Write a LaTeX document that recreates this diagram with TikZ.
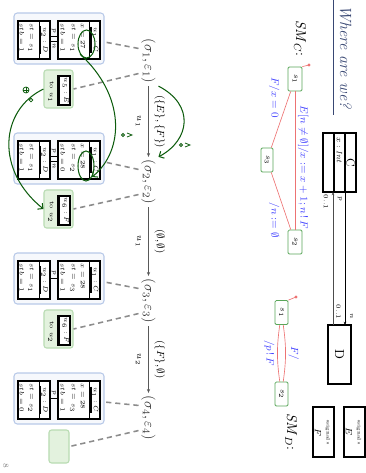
\documentclass[tikz,border=0pt]{standalone}
\usetikzlibrary{calc,arrows.meta,shapes.geometric}
\definecolor{titleblue}{rgb}{0.22,0.28,0.45}
\definecolor{stategreen}{rgb}{0.35,0.65,0.35}
\definecolor{transred}{rgb}{0.93,0.45,0.45}
\definecolor{lblblue}{rgb}{0.25,0.25,1}
\definecolor{cfgblue}{rgb}{0.72,0.79,0.91}
\definecolor{cfgfill}{rgb}{0.965,0.972,0.99}
\definecolor{evgreen}{rgb}{0.72,0.86,0.7}
\definecolor{evfill}{rgb}{0.89,0.95,0.87}
\definecolor{pengreen}{rgb}{0.05,0.36,0.05}
\newcommand\myfs[1]{\fontsize{#1}{#1}\selectfont}
\newcommand\pxu{0.7699pt}
\tikzset{
  stbox/.style={draw=stategreen,line width=0.6pt,rounded corners=1pt,fill=white,
    minimum width={24*\pxu},minimum height={14*\pxu},inner sep=0pt,font=\myfs{6}},
  trline/.style={draw=transred,line width=0.5pt},
  lbl/.style={text=lblblue,font=\myfs{8},inner sep=1pt},
  clsbox/.style={draw=black,line width=1.1pt,inner sep=0pt},
  cfg/.style={font=\myfs{11},text=black!80,inner sep=2pt},
  runarrow/.style={draw=black!65,line width=0.8pt,-{Stealth[length=3pt,width=2.5pt]}},
  cbox/.style={draw=cfgblue,fill=cfgfill,line width=0.8pt,rounded corners=2.5pt,
    minimum width={51*\pxu},minimum height={90*\pxu},inner sep=0pt},
  objbox/.style={draw=black,line width=0.8pt,fill=white,inner sep=0pt},
  attr/.style={font=\myfs{5},anchor=west,inner sep=0pt},
  oname/.style={font=\myfs{5},inner sep=0.3pt},
  ebox/.style={draw=evgreen,fill=evfill,line width=0.8pt,rounded corners=2pt,inner sep=0pt},
  dsh/.style={draw=black!45,line width=1.2pt,dash pattern=on 4pt off 3pt},
  pen/.style={draw=pengreen,line width=0.8pt},
}
% #1 shift, #2 suffix, #3 x, #4 st u1, #5 stb u1, #6 st u2, #7 stb u2, #8 links(1=p,n)
\newcommand\cfgbox[8]{%
 \begin{scope}[shift={(#1,0)}]
  \node[cbox] (b#2) at (38.5,59) {};
  \node[objbox,minimum width={38*\pxu},minimum height={42*\pxu}] (oc#2) at (40,79) {};
  \draw[line width=0.6pt] (21,89) -- (59,89);
  \node[oname] (nc#2) at (40,95) {$u_1 : C$};
  \draw[line width=1.1pt] (nc#2.south west) -- (nc#2.south east);
  \node[attr] at (23,83) {$x = #3$};
  \node[attr] at (23,73) {$st = #4$};
  \node[attr] at (23,63) {$stb = #5$};
  \node[objbox,minimum width={38*\pxu},minimum height={32*\pxu}] (od#2) at (40,34) {};
  \draw[line width=0.6pt] (21,39) -- (59,39);
  \node[oname] (nd#2) at (40,44.5) {$u_2 : D$};
  \draw[line width=1.1pt] (nd#2.south west) -- (nd#2.south east);
  \node[attr] at (23,31) {$st = #6$};
  \node[attr] at (23,22) {$stb = #7$};
  \ifnum#8=1
   \draw[line width=0.5pt] (36,50) -- (36,58);
   \draw[line width=0.5pt] (41,50) -- (41,58);
   \node[font=\myfs{4.5},inner sep=0pt] at (30.5,54) {$p$};
   \node[font=\myfs{4.5},inner sep=0pt] at (46,54) {$n$};
  \else
   \draw[line width=0.5pt] (38,50) -- (38,58);
   \node[font=\myfs{4.5},inner sep=0pt] at (32.5,54) {$p$};
  \fi
 \end{scope}}
% #1 shift, #2 suffix, #3 target, #4 event
\newcommand\evbox[4]{%
 \begin{scope}[shift={(#1,0)}]
  \node[ebox,minimum width={38*\pxu},minimum height={29*\pxu}] (g#2) at (89,58.5) {};
  \node[font=\myfs{5},inner sep=0pt] at (92,51) {to $#3$};
  \node[objbox,minimum width={29*\pxu},minimum height={12*\pxu}] (e#2) at (90.5,64) {};
  \draw[line width=1.8pt] (76,59) -- (105,59);
  \node[font=\myfs{5},inner sep=0pt] at (90.5,65.5) {$#4$};
 \end{scope}}
\begin{document}
\begin{tikzpicture}[x=0.02706cm,y=0.02706cm]
\useasboundingbox (0,0) rectangle (366,-473);
\begin{scope}[rotate=-90,transform shape]
 % title
 \node[anchor=base west,text=titleblue,font=\myfs{12.5}\itshape,inner sep=0pt] (title) at (5,340) {Where are we?};
 \coordinate (ulA) at (0,333); \coordinate (ulB) at (115,333);
 \draw[titleblue,line width=0.7pt] (ulA) -- (ulB);
 % SM_C
 \node[anchor=west,font=\myfs{11},inner sep=0pt] (smc) at (20,300) {$\mathit{SM}_C$:};
 \node[stbox] (cs1) at (79,295) {$s_1$};
 \node[stbox,minimum height={12*\pxu}] (cs3) at (160,267) {$s_3$};
 \node[stbox] (cs2) at (242,295) {$s_2$};
 \coordinate (cinit) at (65,309);
 \fill[transred] (cinit) circle (1.7);
 \draw[trline] (cinit) -- (cs1.north west);
 \draw[trline] (cs1) -- (cs2) node[lbl,pos=0.55,above=1pt] {$E[n \neq \emptyset]/x := x + 1; n\,!\,F$};
 \draw[trline] (cs1) -- (cs3) node[lbl,pos=0.5,below left=0pt] {$F/x = 0$};
 \draw[trline] (cs3) -- (cs2) node[lbl,pos=0.5,below right=0pt] {$/n := \emptyset$};
 % class diagram
 \node[clsbox,minimum width={59*\pxu},minimum height={33*\pxu}] (clC) at (162.5,339.5) {};
 \draw[line width=0.9pt] (133,334) -- (192,334);
 \draw[line width=0.9pt] (133,345) -- (192,345);
 \node[font=\myfs{9}] (clCn) at (162.5,350.5) {C};
 \node[font=\myfs{6},anchor=west,inner sep=0pt] (clCa) at (137,339.5) {$x : \mathit{Int}$};
 \node[clsbox,minimum width={59*\pxu},minimum height={23*\pxu}] (clD) at (354.5,339.5) {D};
 \coordinate (aC1) at (192,333); \coordinate (aD1) at (325,333);
 \coordinate (aC2) at (192,345); \coordinate (aD2) at (325,345);
 \draw[black!70,line width=0.5pt,{Stealth[length=2.5pt,width=2pt]}-] (aC1) -- (aD1);
 \draw[black,line width=0.5pt,-{Stealth[length=2.5pt,width=2pt]}] (aC2) -- (aD2);
 \node[font=\myfs{5},inner sep=0pt] at (202,326) {$0..1$};
 \node[font=\myfs{5},inner sep=0pt] at (199,340) {$p$};
 \node[font=\myfs{5},inner sep=0pt] at (312,338.5) {$0..1$};
 \node[font=\myfs{5},inner sep=0pt] at (316,351.5) {$n$};
 % signals
 \node[clsbox,line width=0.8pt,minimum width={50*\pxu},minimum height={21*\pxu}] (sigE) at (432,354.5) {};
 \node[font=\myfs{4},inner sep=0pt] at (432,359) {\guillemotleft signal\guillemotright};
 \node[font=\myfs{7},inner sep=0pt] at (432,349) {$E$};
 \node[clsbox,line width=0.8pt,minimum width={50*\pxu},minimum height={21*\pxu}] (sigF) at (432,323.5) {};
 \node[font=\myfs{4},inner sep=0pt] at (432,328) {\guillemotleft signal\guillemotright};
 \node[font=\myfs{7},inner sep=0pt] at (432,318) {$F$};
 % SM_D
 \node[anchor=west,font=\myfs{11},inner sep=0pt] (smd) at (413,291) {$\mathit{SM}_D$:};
 \node[stbox,minimum height={13*\pxu}] (ds1) at (312.5,281.5) {$s_1$};
 \node[stbox,minimum height={13*\pxu}] (ds2) at (394,281.5) {$s_2$};
 \coordinate (dinit) at (297,296);
 \fill[transred] (dinit) circle (1.7);
 \draw[trline] (dinit) -- (ds1.north west);
 \draw[trline] (ds1) to[bend left=8] node[lbl,above=1pt] {$F/$} (ds2);
 \draw[trline] (ds1) to[bend right=8] node[lbl,below=1pt] {$/p\,!\,F$} (ds2);
 % run
 \node[cfg] (c1) at (61,148.5) {$(\sigma_1, \varepsilon_1)$};
 \node[cfg] (c2) at (182,148.5) {$(\sigma_2, \varepsilon_2)$};
 \node[cfg] (c3) at (301,148.5) {$(\sigma_3, \varepsilon_3)$};
 \node[cfg] (c4) at (418,148.5) {$(\sigma_4, \varepsilon_4)$};
 \draw[runarrow] (c1) -- (c2) node[midway,above=1pt,font=\myfs{8}] {$(\{E\}, \{F\})$} node[midway,below=2pt,font=\myfs{7}] {$u_1$};
 \draw[runarrow] (c2) -- (c3) node[midway,above=1pt,font=\myfs{8}] {$(\emptyset, \emptyset)$} node[midway,below=2pt,font=\myfs{7}] {$u_1$};
 \draw[runarrow] (c3) -- (c4) node[midway,above=1pt,font=\myfs{8}] {$(\{F\}, \emptyset)$} node[midway,below=2pt,font=\myfs{7}] {$u_2$};
 % configurations
 \cfgbox{0}{1}{27}{s_1}{1}{s_1}{1}{1}
 \cfgbox{120}{2}{28}{s_2}{0}{s_1}{1}{1}
 \cfgbox{240}{3}{28}{s_3}{1}{s_1}{1}{0}
 \cfgbox{360}{4}{28}{s_3}{1}{s_2}{0}{0}
 \evbox{0}{1}{u_1}{u_5 : E}
 \evbox{120}{2}{u_2}{u_6 : F}
 \evbox{240}{3}{u_2}{u_6 : F}
 \node[ebox,minimum width={33*\pxu},minimum height={20*\pxu}] (g4) at (446.5,59) {};
 % dashed
 \foreach \i in {1,2,3,4} {
   \draw[dsh] ($(c\i.south)!0.5!(c\i.south west)$) -- ($(b\i.north)+(3.5,0)$);
   \draw[dsh] ($(c\i.south)!0.5!(c\i.south east)$) -- (g\i.north);
 }
 % pen annotations
 \node[pen,ellipse,draw,minimum width={28*\pxu},minimum height={17*\pxu},inner sep=0pt] (el1) at (44,86.5) {};
 \node[pen,ellipse,draw,minimum width={30*\pxu},minimum height={16*\pxu},inner sep=0pt] (el2) at (166,86) {};
 \draw[pen,-{Straight Barb[length=3pt]}] (el1.south east) .. controls (95,125) and (150,125) .. (el2.north east);
 \draw[pen,-{Straight Barb[length=3pt]}] (c1.north east) .. controls (105,195) and (140,190) .. (c2.north west);
 \draw[pen,-{Straight Barb[length=3pt]}] (g1.south) .. controls (110,0) and (170,-5) .. (g2.south);
 \coordinate (mk1) at (135,123); \draw[pen,line width=0.6pt] (mk1) circle (1.5);
 \draw[pen,line width=0.6pt] (133,127) -- (135,132) -- (137,127);
 \coordinate (mk2) at (145,181); \draw[pen,line width=0.6pt] (mk2) circle (1.5);
 \draw[pen,line width=0.6pt] (143,185) -- (145,190) -- (147,185);
 \coordinate (mk3) at (90,26); \draw[pen,line width=0.6pt] (mk3) circle (3);
 \draw[pen,line width=0.6pt] (87,26) -- (93,26) (90,23) -- (90,29);
 \coordinate (mk4) at (100,31); \draw[pen,line width=0.6pt] (mk4) circle (1.8);
 % page number
 \node[font=\myfs{6},text=black!50,inner sep=0pt] (pg) at (466,6) {8};
\end{scope}
\end{tikzpicture}
\end{document}
